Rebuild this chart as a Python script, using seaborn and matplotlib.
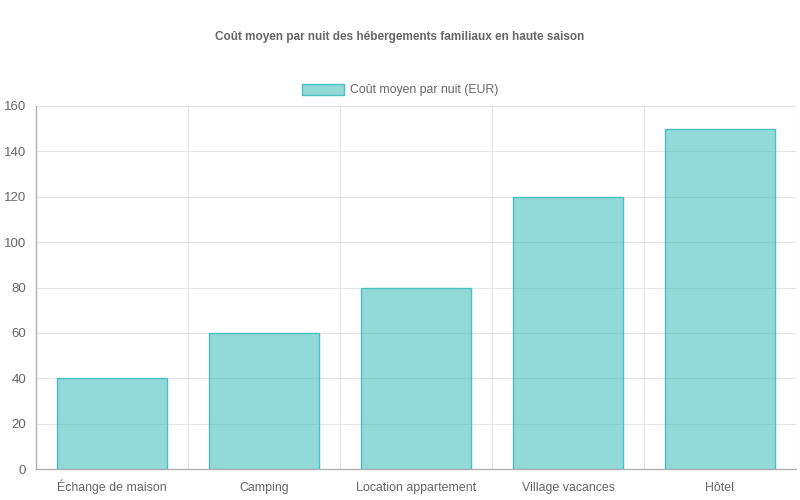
import pandas as pd
import matplotlib.pyplot as plt
import seaborn as sns
from matplotlib.patches import Patch

categories = ['Échange de maison', 'Camping', 'Location appartement', 'Village vacances', 'Hôtel']
costs = [40, 60, 80, 120, 150]
series_label = 'Coût moyen par nuit (EUR)'
title = 'Coût moyen par nuit des hébergements familiaux en haute saison'

df = pd.DataFrame({'Type': categories, 'Cost': costs})

sns.set_style('white')
plt.rcParams['font.family'] = ['Liberation Sans', 'DejaVu Sans']

fill = (75/255, 192/255, 192/255, 0.6)
edge = (75/255, 192/255, 192/255, 1.0)
grey = '#666666'
grid_col = '#e5e5e5'

fig = plt.figure(figsize=(8, 5), dpi=100)
ax = fig.add_axes([0.045, 0.062, 0.95, 0.726])

sns.barplot(data=df, x='Type', y='Cost', ax=ax, width=0.72,
            color=fill, edgecolor=edge, linewidth=1.0, saturation=1)
for p in ax.patches:
    p.set_facecolor(fill)
    p.set_edgecolor(edge)

ax.set_xlim(-0.5, len(categories) - 0.5)
ax.set_ylim(0, 160)
ax.set_yticks(range(0, 161, 20))
ax.set_xticks([i - 0.5 for i in range(len(categories) + 1)], minor=True)

ax.set_xlabel('')
ax.set_ylabel('')
ax.tick_params(axis='x', which='major', length=0, labelsize=8.9, labelcolor=grey, pad=16)
for lbl in ax.get_xticklabels():
    lbl.set_verticalalignment('baseline')
ax.tick_params(axis='x', which='minor', length=6, color=grid_col, width=1)
ax.tick_params(axis='y', length=6, color=grid_col, labelsize=9.5, labelcolor=grey, pad=1)

ax.grid(axis='y', color=grid_col, linewidth=0.8)
ax.grid(axis='x', which='minor', color=grid_col, linewidth=0.8)
ax.set_axisbelow(True)

for s in ['top', 'right']:
    ax.spines[s].set_visible(False)
for s in ['left', 'bottom']:
    ax.spines[s].set_color('#b0b0b0')
    ax.spines[s].set_linewidth(1)

fig.text(0.5, 0.926, title, ha='center', va='center', fontsize=8.5,
         fontweight='bold', color=grey)

handle = Patch(facecolor=fill, edgecolor=edge, linewidth=1)
fig.legend([handle], [series_label], loc='center', bbox_to_anchor=(0.5, 0.82),
           frameon=False, fontsize=8.8, labelcolor=grey, handlelength=3.4,
           handleheight=1.0, handletextpad=0.5)

fig.savefig('out.png', dpi=100)
